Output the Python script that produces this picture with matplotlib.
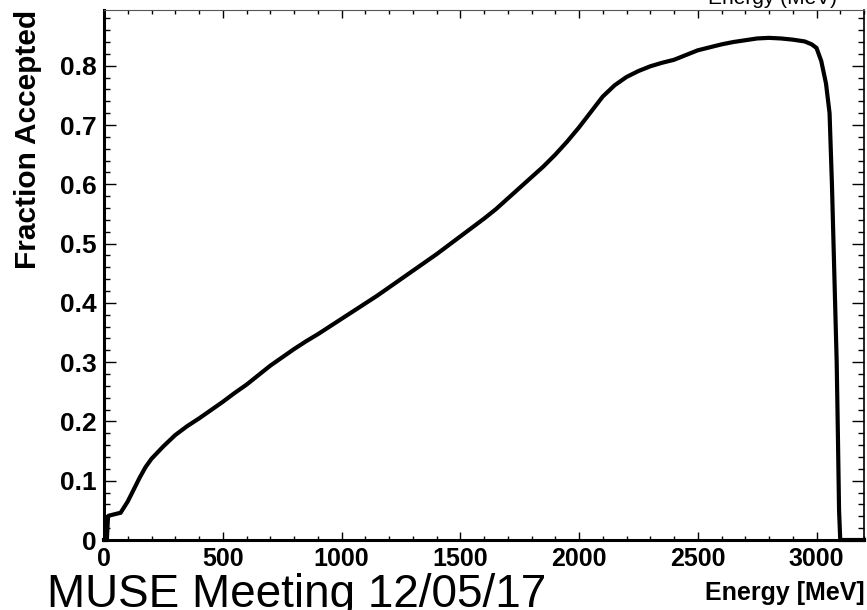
import matplotlib
matplotlib.use("Agg")
import matplotlib.pyplot as plt
from matplotlib.ticker import MultipleLocator, FixedLocator

plt.rcParams['font.family'] = ['Liberation Sans', 'DejaVu Sans']

# Energy (MeV) and fraction accepted
energy = [0, 12, 17, 20, 50, 70, 100, 125, 150, 175, 200, 250, 300, 350, 400,
          450, 500, 550, 600, 650, 700, 750, 800, 850, 900, 950, 1000, 1050,
          1100, 1150, 1200, 1250, 1300, 1350, 1400, 1450, 1500, 1550, 1600,
          1650, 1700, 1750, 1800, 1850, 1900, 1950, 2000, 2050, 2100, 2150,
          2200, 2250, 2300, 2350, 2400, 2450, 2500, 2550, 2600, 2650, 2700,
          2750, 2800, 2850, 2900, 2950, 2980, 3000, 3020, 3040, 3055, 3065,
          3075, 3085, 3090, 3095, 3100, 3200]
fraction = [0, 0, 0.040, 0.041, 0.044, 0.046, 0.065, 0.085, 0.105, 0.123,
            0.137, 0.158, 0.177, 0.192, 0.205, 0.219, 0.233, 0.248, 0.262,
            0.278, 0.294, 0.308, 0.322, 0.335, 0.347, 0.360, 0.373, 0.386,
            0.399, 0.412, 0.426, 0.440, 0.454, 0.468, 0.482, 0.497, 0.512,
            0.527, 0.542, 0.558, 0.576, 0.594, 0.612, 0.630, 0.650, 0.672,
            0.696, 0.722, 0.748, 0.767, 0.781, 0.791, 0.799, 0.805, 0.810,
            0.818, 0.826, 0.831, 0.836, 0.840, 0.843, 0.846, 0.847, 0.846,
            0.844, 0.841, 0.836, 0.830, 0.808, 0.770, 0.720, 0.600, 0.450,
            0.300, 0.180, 0.050, 0, 0]

x_ticks = [0, 500, 1000, 1500, 2000, 2500, 3000]
x_ticklabels = ['0', '500', '1000', '1500', '2000', '2500', '3000']
y_ticks = [0, 0.1, 0.2, 0.3, 0.4, 0.5, 0.6, 0.7, 0.8]
y_ticklabels = ['0', '0.1', '0.2', '0.3', '0.4', '0.5', '0.6', '0.7', '0.8']

fig = plt.figure(figsize=(8.67, 6.10), dpi=100)
ax = fig.add_axes([104/867, 70/610, 760/867, 530/610])

ax.plot(energy, fraction, color='black', lw=3.0, solid_joinstyle='miter',
        clip_on=False, zorder=3)

ax.set_xlim(0, 3200)
ax.set_ylim(0, 0.894)

ax.xaxis.set_major_locator(FixedLocator(x_ticks))
ax.set_xticklabels(x_ticklabels)
ax.xaxis.set_minor_locator(MultipleLocator(100))
ax.yaxis.set_major_locator(FixedLocator(y_ticks))
ax.set_yticklabels(y_ticklabels)
ax.yaxis.set_minor_locator(MultipleLocator(0.02))

ax.tick_params(axis='both', which='both', direction='in', top=True, right=True,
               color='black')
ax.tick_params(axis='x', which='major', length=6, width=1.0, pad=5,
               labelsize=18)
ax.tick_params(axis='x', which='minor', length=3, width=1.0)
ax.tick_params(axis='y', which='major', length=8.5, width=1.0, pad=5,
               labelsize=19)
ax.tick_params(axis='y', which='minor', length=4, width=1.0)
for lab in ax.get_xticklabels() + ax.get_yticklabels():
    lab.set_fontweight('bold')

ax.spines['left'].set_linewidth(2.2)
ax.spines['bottom'].set_linewidth(2.2)
ax.spines['top'].set_linewidth(0.8)
ax.spines['top'].set_color('#555555')
ax.spines['right'].set_linewidth(1.2)

fig.text(28/867, 1 - 10/610, 'Fraction Accepted', rotation=90, ha='center',
         va='top', fontsize=21.5, fontweight='bold')
fig.text(865/867, 1 - 600/610, 'Energy [MeV]', ha='right', va='baseline',
         fontsize=18, fontweight='bold')
fig.text(773/867, 1 - 4/610, 'Energy (MeV)', ha='center', va='baseline',
         fontsize=15)
fig.text(47/867, 3/610, 'MUSE Meeting 12/05/17', ha='left', va='baseline',
         fontsize=33)

fig.savefig('out.png', dpi=100)
